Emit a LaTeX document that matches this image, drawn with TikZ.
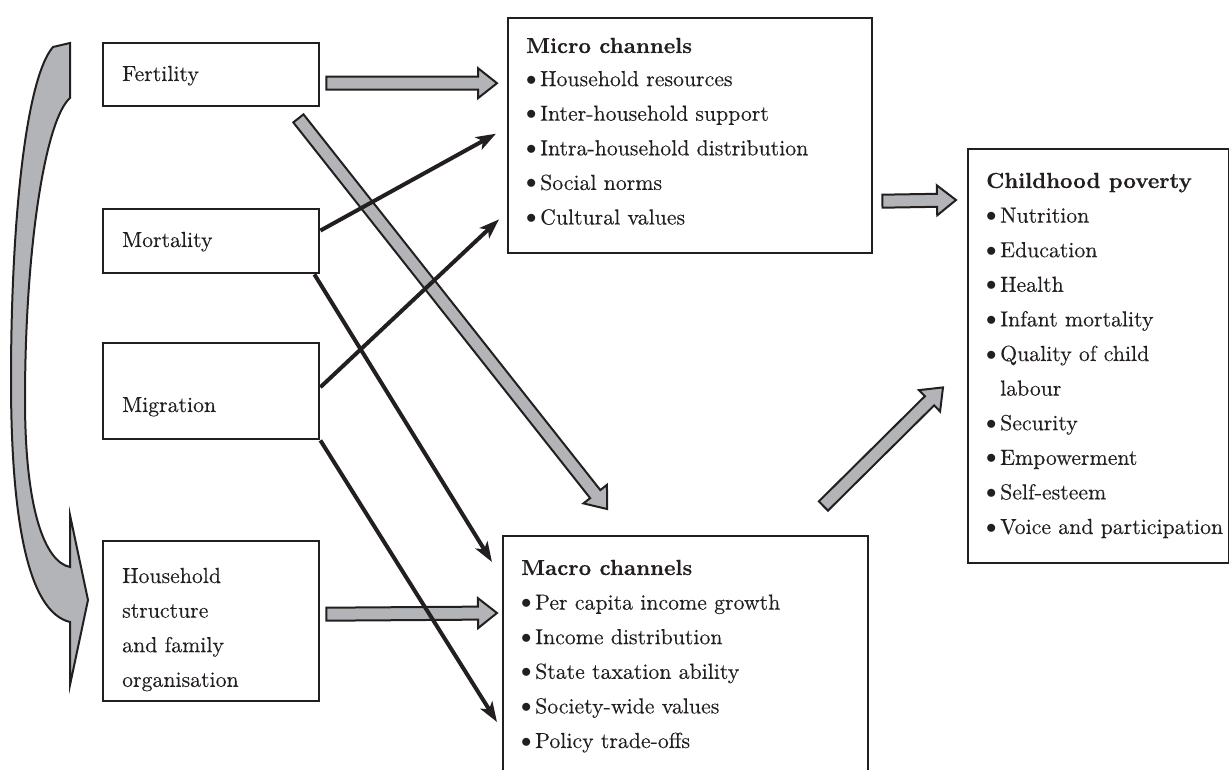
\documentclass[tikz,border=0pt]{standalone}
\usepackage{fontspec}
\setmainfont{lmroman10-regular.otf}[BoldFont=lmroman10-bold.otf, UprightFeatures={FakeBold=0.25}, BoldFeatures={FakeBold=0.3}]
\usetikzlibrary{calc,arrows.meta}
\definecolor{ink}{RGB}{35,31,32}
\definecolor{grayfill}{RGB}{178,180,183}
\newcommand\garr[2]{%
  \coordinate (gh) at ($(#2)!19pt!(#1)$);
  \draw[garrow] ($(#1)!6.5pt!90:(#2)$) -- ($(gh)!6.5pt!-90:(#1)$) -- ($(gh)!15pt!-90:(#1)$) -- (#2) -- ($(gh)!15pt!90:(#1)$) -- ($(gh)!6.5pt!90:(#1)$) -- ($(#1)!6.5pt!-90:(#2)$) -- cycle;}
\tikzset{
  box/.style={draw=ink, line width=2.4pt, rectangle, inner sep=0pt, anchor=north west},
  txt/.style={anchor=base west, inner sep=0pt, text=ink},
  garrow/.style={draw=ink, fill=grayfill, line width=2pt, line join=miter},
  barrow/.style={draw=ink, line width=4pt, -{Stealth[length=20pt,width=14pt,inset=5pt]}},
  every node/.style={font=\fontsize{21.8}{34.6}\selectfont}
}
\newcommand\bul{\makebox[14pt][l]{\raisebox{0.1ex}{$\bullet$}}}
\begin{document}
\begin{tikzpicture}[x=1pt,y=-1pt]
\useasboundingbox (0,0) rectangle (1229,770);
% boxes
\node[box, minimum width=216pt, minimum height=63pt] (fert) at (102,42) {};
\node[box, minimum width=216pt, minimum height=64pt] (mort) at (102,208) {};
\node[box, minimum width=216pt, minimum height=96pt] (migr) at (102,342) {};
\node[box, minimum width=216pt, minimum height=160pt] (hh) at (102,540) {};
\node[box, minimum width=364pt, minimum height=235pt] (micro) at (507,17) {};
\node[box, minimum width=365pt, minimum height=260pt] (macro) at (502,535) {};
\node[box, minimum width=261pt, minimum height=414pt] (child) at (967,148) {};
% texts
\node[txt] (tfert) at (122,81) {Fertility};
\node[txt] (tmort) at (122,247) {Mortality};
\node[txt] (tmigr) at (122,412) {Migration};
\node[txt] (thh) at (122,583) {\begin{tabular}[t]{@{}l@{}}Household\\structure\\and family\\organisation\end{tabular}};
\node[txt] (tmicro) at (526,53) {\begin{tabular}[t]{@{}l@{}}\textbf{Micro channels}\\[-1.5pt]\bul Household resources\\\bul Inter-household support\\\bul Intra-household distribution\\\bul Social norms\\\bul Cultural values\end{tabular}};
\node[txt] (tmacro) at (521,575) {\begin{tabular}[t]{@{}l@{}}\textbf{Macro channels}\\\bul Per capita income growth\\\bul Income distribution\\\bul State taxation ability\\\bul Society-wide values\\\bul Policy trade-offs\end{tabular}};
\node[txt] (tchild) at (986,188) {\begin{tabular}[t]{@{}l@{}}\textbf{Childhood poverty}\\\bul Nutrition\\\bul Education\\\bul Health\\\bul Infant mortality\\\bul Quality of child\\\hspace*{14pt}labour\\\bul Security\\\bul Empowerment\\\bul Self-esteem\\\bul Voice and participation\end{tabular}};
% connector end points
\coordinate (g1a) at ($(fert.east)+(6,8.5)$);
\coordinate (g1b) at ($(micro.west)+(-10,-52.5)$);
\coordinate (g2a) at ($(hh.east)+(6,-7)$);
\coordinate (g2b) at ($(macro.north west)+(-5,78)$);
\coordinate (g3a) at ($(micro.east)+(9,65.5)$);
\coordinate (g3b) at ($(child.north west)+(-11,52)$);
\coordinate (g4a) at ($(fert.south east)+(-22,11)$);
\coordinate (g4b) at ($(macro.north west)+(105,-26)$);
\coordinate (g5a) at ($(macro.north east)+(-46,-29)$);
\coordinate (g5b) at ($(child.south west)+(-24,-177)$);
% gray block arrows
\garr{g4a}{g4b}
\garr{g1a}{g1b}
\garr{g2a}{g2b}
\garr{g3a}{g3b}
\garr{g5a}{g5b}
% black arrows
\draw[barrow] ($(mort.north east)!0.34!(mort.south east)$) -- ($(micro.west)+(-11,-2)$);
\draw[barrow] ($(migr.east)+(0,-4)$) -- ($(micro.south west)+(-8,-35)$);
\draw[barrow] ($(mort.south east)+(-6,0)$) -- ($(macro.north west)+(-10,27)$);
\draw[barrow] (migr.south east) -- ($(macro.north west)+(-5,187)$);
% left curved arrow
\draw[garrow] (70,43) -- (70,98) .. controls (45,120) and (25,250) .. (25,400)
  .. controls (25,510) and (45,562) .. (70,567) -- (70,515) -- (88,600) -- (70,685) -- (70,622)
  .. controls (28,612) and (11,520) .. (11,380) .. controls (11,220) and (26,78) .. (53,47) -- cycle;
\end{tikzpicture}
\end{document}
